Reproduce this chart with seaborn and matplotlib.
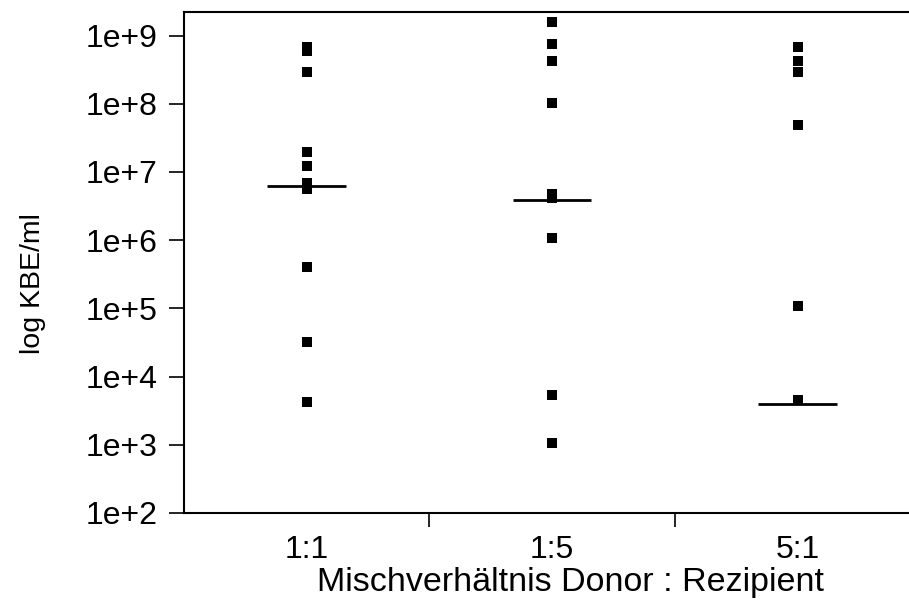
import numpy as np
import pandas as pd
import matplotlib
matplotlib.use("Agg")
import matplotlib.pyplot as plt
from matplotlib.ticker import FixedLocator, FuncFormatter, NullLocator
import seaborn as sns

# values (KBE/ml)
categories = ["1:1", "1:5", "5:1"]
vals_1_1 = [6.8e8, 5.9e8, 2.9e8, 1.95e7, 1.22e7, 6.8e6, 5.6e6, 4.0e5, 3.2e4, 4.3e3]
vals_1_5 = [1.58e9, 7.5e8, 4.2e8, 1.04e8, 4.7e6, 4.1e6, 1.07e6, 5.3e3, 1.06e3]
vals_5_1 = [6.8e8, 4.2e8, 2.9e8, 4.9e7, 1.07e5, 4.5e3]
medians = [6.2e6, 3.9e6, 3.9e3]
y_ticks = [1e2, 1e3, 1e4, 1e5, 1e6, 1e7, 1e8, 1e9]

df = pd.DataFrame({
    "ratio": ["1:1"] * len(vals_1_1) + ["1:5"] * len(vals_1_5) + ["5:1"] * len(vals_5_1),
    "kbe": vals_1_1 + vals_1_5 + vals_5_1,
})

sns.set_style("ticks")
plt.rcParams["font.family"] = ["Liberation Sans", "DejaVu Sans"]
plt.rcParams["text.color"] = "black"
plt.rcParams["axes.labelcolor"] = "black"
plt.rcParams["xtick.color"] = "black"
plt.rcParams["ytick.color"] = "black"

fig = plt.figure(figsize=(9.09, 6.15), dpi=100)
ax = fig.add_axes([0.2024, 0.1659, 0.81, 0.8154])

sns.stripplot(data=df, x="ratio", y="kbe", order=categories, jitter=False,
              marker="s", color="black", size=7.6, linewidth=0, ax=ax, log_scale=True)

# median bars
for i, m in enumerate(medians):
    ax.hlines(m, i - 0.16, i + 0.16, color="black", linewidth=2)

ax.set_xlim(-0.5, 2.5)
ax.set_ylim(1e2, 2.25e9)
ax.yaxis.set_major_locator(FixedLocator(y_ticks))
ax.yaxis.set_minor_locator(NullLocator())
ax.yaxis.set_major_formatter(FuncFormatter(lambda v, p: "1e+%d" % round(np.log10(v))))

ax.xaxis.set_minor_locator(FixedLocator([0.5, 1.5]))
ax.tick_params(axis="x", which="major", length=0, pad=16, labelsize=23)
ax.tick_params(axis="x", which="minor", length=10, width=1.2, direction="out")
ax.tick_params(axis="y", which="major", length=11, width=1.2, pad=8, labelsize=23)

for s in ax.spines.values():
    s.set_linewidth(1.5)
    s.set_color("black")

ax.set_xlabel("Mischverhältnis Donor : Rezipient", fontsize=24.5)
ax.set_ylabel("log KBE/ml", fontsize=20.5)
ax.xaxis.set_label_coords((570 - 184) / 736, -0.108)
ax.yaxis.set_label_coords(-0.1875, 0.457)

fig.savefig("out.png", dpi=100)
